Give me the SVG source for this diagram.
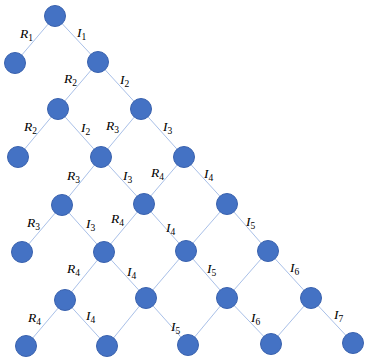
<svg xmlns="http://www.w3.org/2000/svg" width="365" height="357" viewBox="0 0 365 357">
<style>
.n{fill:#4472C4;stroke:#3A62AE;stroke-width:1}
.e{stroke:#A9C0E8;stroke-width:1;fill:none}
.l{font-family:"Liberation Serif",serif;font-style:italic;font-size:13.5px;fill:#000}
.s{font-style:normal;font-size:9.5px}
</style>
<rect width="365" height="357" fill="#fff"/>
<g id="connectors" class="e">
<line x1="55" y1="16" x2="15" y2="63"/>
<line x1="55" y1="16" x2="98" y2="62"/>
<line x1="98" y1="62" x2="58" y2="109"/>
<line x1="98" y1="62" x2="141" y2="109"/>
<line x1="58" y1="109" x2="18" y2="157"/>
<line x1="58" y1="109" x2="101" y2="157"/>
<line x1="141" y1="109" x2="101" y2="157"/>
<line x1="141" y1="109" x2="184" y2="157"/>
<line x1="101" y1="157" x2="62" y2="205"/>
<line x1="101" y1="157" x2="144" y2="204"/>
<line x1="184" y1="157" x2="144" y2="204"/>
<line x1="184" y1="157" x2="227" y2="204"/>
<line x1="62" y1="205" x2="22" y2="252"/>
<line x1="62" y1="205" x2="104" y2="252"/>
<line x1="144" y1="204" x2="104" y2="252"/>
<line x1="144" y1="204" x2="186" y2="251"/>
<line x1="227" y1="204" x2="186" y2="251"/>
<line x1="227" y1="204" x2="268" y2="251"/>
<line x1="104" y1="252" x2="65" y2="300"/>
<line x1="104" y1="252" x2="146" y2="298"/>
<line x1="186" y1="251" x2="146" y2="298"/>
<line x1="186" y1="251" x2="227" y2="298"/>
<line x1="268" y1="251" x2="227" y2="298"/>
<line x1="268" y1="251" x2="311" y2="298"/>
<line x1="65" y1="300" x2="26" y2="346"/>
<line x1="65" y1="300" x2="107" y2="346"/>
<line x1="146" y1="298" x2="107" y2="346"/>
<line x1="146" y1="298" x2="188" y2="345"/>
<line x1="227" y1="298" x2="188" y2="345"/>
<line x1="227" y1="298" x2="271" y2="344"/>
<line x1="311" y1="298" x2="271" y2="344"/>
<line x1="311" y1="298" x2="353" y2="343"/>
</g>
<g id="nodes">
<circle id="n0" class="n" cx="55" cy="16" r="10.5"/>
<circle id="n1" class="n" cx="15" cy="63" r="10.5"/>
<circle id="n2" class="n" cx="98" cy="62" r="10.5"/>
<circle id="n3" class="n" cx="58" cy="109" r="10.5"/>
<circle id="n4" class="n" cx="141" cy="109" r="10.5"/>
<circle id="n5" class="n" cx="18" cy="157" r="10.5"/>
<circle id="n6" class="n" cx="101" cy="157" r="10.5"/>
<circle id="n7" class="n" cx="184" cy="157" r="10.5"/>
<circle id="n8" class="n" cx="62" cy="205" r="10.5"/>
<circle id="n9" class="n" cx="144" cy="204" r="10.5"/>
<circle id="n10" class="n" cx="227" cy="204" r="10.5"/>
<circle id="n11" class="n" cx="22" cy="252" r="10.5"/>
<circle id="n12" class="n" cx="104" cy="252" r="10.5"/>
<circle id="n13" class="n" cx="186" cy="251" r="10.5"/>
<circle id="n14" class="n" cx="268" cy="251" r="10.5"/>
<circle id="n15" class="n" cx="65" cy="300" r="10.5"/>
<circle id="n16" class="n" cx="146" cy="298" r="10.5"/>
<circle id="n17" class="n" cx="227" cy="298" r="10.5"/>
<circle id="n18" class="n" cx="311" cy="298" r="10.5"/>
<circle id="n19" class="n" cx="26" cy="346" r="10.5"/>
<circle id="n20" class="n" cx="107" cy="346" r="10.5"/>
<circle id="n21" class="n" cx="188" cy="345" r="10.5"/>
<circle id="n22" class="n" cx="271" cy="344" r="10.5"/>
<circle id="n23" class="n" cx="353" cy="343" r="10.5"/>
</g>
<g id="labels" class="l">
<text x="20" y="38">R<tspan class="s" dy="3">1</tspan></text>
<text x="77" y="37">I<tspan class="s" dy="3">1</tspan></text>
<text x="64" y="83">R<tspan class="s" dy="3">2</tspan></text>
<text x="120" y="84">I<tspan class="s" dy="3">2</tspan></text>
<text x="24" y="131">R<tspan class="s" dy="3">2</tspan></text>
<text x="81" y="132">I<tspan class="s" dy="3">2</tspan></text>
<text x="106" y="130">R<tspan class="s" dy="3">3</tspan></text>
<text x="163" y="131">I<tspan class="s" dy="3">3</tspan></text>
<text x="67" y="180">R<tspan class="s" dy="3">3</tspan></text>
<text x="123" y="180">I<tspan class="s" dy="3">3</tspan></text>
<text x="151" y="177">R<tspan class="s" dy="3">4</tspan></text>
<text x="204" y="178">I<tspan class="s" dy="3">4</tspan></text>
<text x="27" y="227">R<tspan class="s" dy="3">3</tspan></text>
<text x="86" y="228">I<tspan class="s" dy="3">3</tspan></text>
<text x="111" y="223">R<tspan class="s" dy="3">4</tspan></text>
<text x="166" y="232">I<tspan class="s" dy="3">4</tspan></text>
<text x="246" y="226">I<tspan class="s" dy="3">5</tspan></text>
<text x="67" y="273">R<tspan class="s" dy="3">4</tspan></text>
<text x="127" y="276">I<tspan class="s" dy="3">4</tspan></text>
<text x="207" y="273">I<tspan class="s" dy="3">5</tspan></text>
<text x="290" y="272">I<tspan class="s" dy="3">6</tspan></text>
<text x="28" y="322">R<tspan class="s" dy="3">4</tspan></text>
<text x="86" y="320">I<tspan class="s" dy="3">4</tspan></text>
<text x="171" y="331">I<tspan class="s" dy="3">5</tspan></text>
<text x="251" y="322">I<tspan class="s" dy="3">6</tspan></text>
<text x="334" y="319">I<tspan class="s" dy="3">7</tspan></text>
</g>
</svg>
